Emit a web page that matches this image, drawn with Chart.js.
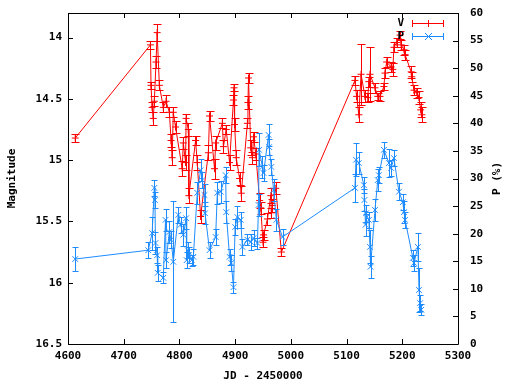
<!DOCTYPE html>
<html>
<head>
<meta charset="utf-8">
<script src="https://cdn.jsdelivr.net/npm/chart.js@4/dist/chart.umd.min.js"></script>
<style>
  html, body { margin: 0; padding: 0; background: #fff; }
  #wrap { width: 512px; height: 384px; }
</style>
</head>
<body>
<div id="wrap"><canvas id="myChart" width="512" height="384"></canvas></div>
<script>
// V magnitude
const vJD = [4613,4748,4749,4751,4753,4755,4758,4760,4764,4771,
  4776,4782,4785,4787,4789,4793,4805,4807,4811,4812,
  4816,4817,4829,4832,4838,4852,4854,4863,4865,4877,
  4879,4884,4890,4897,4898,4899,4902,4908,4911,4922,
  4923,4924,4928,4931,4933,4937,4944,4946,4950,4951,
  4958,4964,4965,4967,4973,4983,5115,5118,5122,5126,
  5133,5138,5140,5142,5151,5156,5160,5167,5169,5172,
  5180,5183,5185,5190,5196,5198,5203,5205,5216,5217,
  5221,5226,5230,5233,5235];
const vMag = [14.82,14.06,14.39,14.57,14.66,14.52,14.20,13.96,14.39,14.57,
  14.52,14.61,14.84,14.98,14.61,14.73,15.07,14.86,15.02,14.66,
  14.75,15.29,14.84,15.02,15.46,14.94,14.64,15.07,14.86,14.70,
  14.89,14.75,15.02,14.51,14.41,14.71,14.98,15.15,15.27,14.70,
  14.53,14.33,14.90,14.98,14.81,14.95,15.33,15.39,15.67,15.61,
  15.48,15.29,15.43,15.37,15.23,15.75,14.35,14.48,14.63,14.30,
  14.48,14.49,14.36,14.30,14.41,14.48,14.48,14.40,14.29,14.20,
  14.24,14.26,14.08,14.04,13.98,14.06,14.10,14.14,14.28,14.32,
  14.43,14.45,14.49,14.59,14.63];
const vErr = [0.03,0.03,0.03,0.04,0.05,0.04,0.05,0.07,0.04,0.04,
  0.05,0.04,0.05,0.06,0.04,0.05,0.06,0.05,0.06,0.04,
  0.05,0.06,0.04,0.06,0.05,0.06,0.04,0.08,0.06,0.04,
  0.05,0.04,0.06,0.04,0.03,0.05,0.06,0.05,0.06,0.04,
  0.05,0.04,0.06,0.05,0.04,0.05,0.06,0.05,0.04,0.04,
  0.05,0.06,0.04,0.05,0.05,0.03,0.04,0.05,0.06,0.25,
  0.05,0.04,0.04,0.22,0.04,0.03,0.04,0.03,0.04,0.04,
  0.04,0.05,0.04,0.04,0.03,0.04,0.04,0.04,0.05,0.04,
  0.04,0.04,0.05,0.06,0.06];

// polarisation P (%)
const pJD = [4613,4744,4751,4755,4756,4757,4760,4761,4771,4775,
  4776,4782,4785,4789,4798,4802,4807,4812,4813,4815,
  4817,4822,4825,4832,4838,4841,4845,4846,4854,4865,
  4868,4874,4883,4884,4890,4893,4897,4900,4904,4910,
  4913,4922,4928,4933,4940,4942,4943,4949,4951,4960,
  4961,4965,4969,4974,4985,5115,5117,5122,5131,5132,
  5134,5135,5140,5142,5143,5151,5156,5158,5167,5176,
  5180,5185,5194,5201,5203,5205,5219,5221,5228,5230,
  5232,5234];
const pVal = [15.4,17.0,20.1,28.3,26.1,18.3,16.1,12.9,12.0,22.5,
  15.2,20.3,18.9,14.9,23.4,21.6,19.8,22.8,15.2,17.0,
  16.1,15.2,15.8,27.4,31.5,29.7,27.0,23.7,17.0,19.4,
  27.4,27.6,30.6,23.9,15.8,14.7,10.3,21.2,23.0,22.5,
  17.6,18.9,18.5,19.2,18.3,25.2,35.2,32.1,31.0,37.9,
  35.7,32.1,27.9,22.5,19.4,28.3,33.4,32.8,28.8,26.1,
  21.6,23.7,22.5,17.6,14.0,24.3,29.7,30.6,35.2,32.8,
  31.9,33.7,27.6,25.7,23.9,22.5,15.6,14.7,17.6,9.8,
  7.4,6.2];
const pErr = [2.2,1.5,3,1.5,1.5,2,1.5,1.5,1,2,
  1.5,2,1.5,11,1.5,1.5,2,2,1.5,1.5,
  1.5,1,1.5,2,2,1.5,2,2,1.5,1.5,
  2,2,1.5,2,1.5,1.5,1,1.5,2,1.5,
  1.5,1,1.5,1.5,1,2,3,2,1.5,2,
  1.5,1.5,2,2,1.5,2.5,3,2,1.5,2,
  2,1.5,1.5,3,2,2,2,1.5,1.5,2.5,
  1.5,1.5,1.5,1.5,2,1.5,1.5,1.5,2.5,4,
  1.5,1];

const xTicks = [4600,4700,4800,4900,5000,5100,5200,5300];
const yTicks = [14,14.5,15,15.5,16,16.5];
const y2Ticks = [0,5,10,15,20,25,30,35,40,45,50,55,60];

const RED = '#ff0000';
const BLUE = '#1e8cff';
const FONT = { family: 'DejaVu Sans Mono', size: 11, weight: 'bold' };

// error bars + frame + legend
const gnuplotLook = {
  id: 'gnuplotLook',
  afterDatasetDraw(chart, args) {
    const ds = chart.data.datasets[args.index];
    const ys = chart.scales[ds.yAxisID];
    const ctx = chart.ctx;
    ctx.save();
    ctx.strokeStyle = ds.borderColor;
    ctx.lineWidth = 1;
    ctx.beginPath();
    args.meta.data.forEach((pt, i) => {
      const v = ds.data[i].y, e = ds.err[i];
      const x = Math.round(pt.x) + 0.5;
      const y1 = Math.round(ys.getPixelForValue(v - e)) + 0.5;
      const y2 = Math.round(ys.getPixelForValue(v + e)) + 0.5;
      ctx.moveTo(x, y1); ctx.lineTo(x, y2);
      ctx.moveTo(x - ds.cap, y1); ctx.lineTo(x + ds.cap, y1);
      ctx.moveTo(x - ds.cap, y2); ctx.lineTo(x + ds.cap, y2);
    });
    ctx.stroke();
    ctx.restore();
  },
  afterDraw(chart) {
    const { ctx, chartArea: a, scales } = chart;
    ctx.save();
    ctx.strokeStyle = '#000';
    ctx.lineWidth = 1;
    ctx.beginPath();
    ctx.rect(a.left + 0.5, a.top + 0.5, a.right - a.left, a.bottom - a.top);
    scales.x.ticks.forEach(t => {
      const px = Math.round(scales.x.getPixelForValue(t.value)) + 0.5;
      ctx.moveTo(px, a.bottom); ctx.lineTo(px, a.bottom - 5);
      ctx.moveTo(px, a.top); ctx.lineTo(px, a.top + 5);
    });
    scales.y.ticks.forEach(t => {
      const py = Math.round(scales.y.getPixelForValue(t.value)) + 0.5;
      ctx.moveTo(a.left, py); ctx.lineTo(a.left + 5, py);
    });
    scales.y2.ticks.forEach(t => {
      const py = Math.round(scales.y2.getPixelForValue(t.value)) + 0.5;
      ctx.moveTo(a.right, py); ctx.lineTo(a.right - 5, py);
    });
    ctx.stroke();

    // y2 title, rotated like the left one
    ctx.fillStyle = '#000';
    ctx.font = 'bold 11px "DejaVu Sans Mono"';
    ctx.textAlign = 'center';
    ctx.textBaseline = 'middle';
    ctx.save();
    ctx.translate(497, (a.top + a.bottom) / 2);
    ctx.rotate(-Math.PI / 2);
    ctx.fillText('P (%)', 0, 0);
    ctx.restore();

    // legend
    const rows = [['V', RED, 23], ['P', BLUE, 36]];
    rows.forEach(([label, col, y], k) => {
      ctx.fillStyle = '#000';
      ctx.textAlign = 'right';
      ctx.fillText(label, 404, y);
      ctx.strokeStyle = col;
      ctx.beginPath();
      ctx.moveTo(412, y + 0.5); ctx.lineTo(443, y + 0.5);
      ctx.moveTo(412.5, y - 3); ctx.lineTo(412.5, y + 4);
      ctx.moveTo(443.5, y - 3); ctx.lineTo(443.5, y + 4);
      if (k === 0) {
        ctx.moveTo(428.5, y - 3); ctx.lineTo(428.5, y + 4);
      } else {
        ctx.moveTo(425, y - 3); ctx.lineTo(432, y + 4);
        ctx.moveTo(432, y - 3); ctx.lineTo(425, y + 4);
      }
      ctx.stroke();
    });
    ctx.restore();
  }
};

function noPad(s) {
  s.paddingTop = 0; s.paddingBottom = 0;
  s.paddingLeft = 0; s.paddingRight = 0;
}

const ctx = document.getElementById('myChart').getContext('2d');
const myChart = new Chart(ctx, {
  type: 'line',
  data: {
    datasets: [{
      label: 'V',
      data: vJD.map((x, i) => ({ x: x, y: vMag[i] })),
      err: vErr,
      cap: 4,
      yAxisID: 'y',
      borderColor: RED,
      backgroundColor: RED,
      borderWidth: 1,
      pointStyle: 'cross',
      pointRadius: 3.5,
      pointBorderWidth: 1,
      tension: 0,
      order: 2
    }, {
      label: 'P',
      data: pJD.map((x, i) => ({ x: x, y: pVal[i] })),
      err: pErr,
      cap: 3,
      yAxisID: 'y2',
      borderColor: BLUE,
      backgroundColor: BLUE,
      borderWidth: 1,
      pointStyle: 'crossRot',
      pointRadius: 4,
      pointBorderWidth: 1,
      tension: 0,
      order: 1
    }]
  },
  options: {
    responsive: false,
    animation: false,
    layout: { padding: { top: 13, left: 0, right: 0, bottom: 0 } },
    plugins: { legend: { display: false }, tooltip: { enabled: false } },
    scales: {
      x: {
        type: 'linear',
        position: 'bottom',
        min: 4600,
        max: 5300,
        afterBuildTicks: s => { s.ticks = xTicks.map(v => ({ value: v })); },
        afterFit: s => { s.height = 40; noPad(s); },
        grid: { display: false, drawTicks: false },
        border: { display: false },
        ticks: { font: FONT, color: '#000', padding: 6, maxRotation: 0, callback: v => String(v) },
        title: { display: true, text: 'JD - 2450000', font: FONT, color: '#000', padding: { top: 2, bottom: 1 } }
      },
      y: {
        type: 'linear',
        position: 'left',
        reverse: true,
        min: 13.8,
        max: 16.5,
        afterBuildTicks: s => { s.ticks = yTicks.map(v => ({ value: v })); },
        afterFit: s => { s.width = 68; noPad(s); },
        grid: { display: false, drawTicks: false },
        border: { display: false },
        ticks: { font: FONT, color: '#000', padding: 6, callback: v => String(v) },
        title: { display: true, text: 'Magnitude', font: FONT, color: '#000', padding: { top: 6, bottom: 0 } }
      },
      y2: {
        type: 'linear',
        position: 'right',
        min: 0,
        max: 60,
        afterBuildTicks: s => { s.ticks = y2Ticks.map(v => ({ value: v })); },
        afterFit: s => { s.width = 54; noPad(s); },
        grid: { display: false, drawTicks: false },
        border: { display: false },
        ticks: { font: FONT, color: '#000', padding: 12, callback: v => String(v) }
      }
    }
  },
  plugins: [gnuplotLook]
});
</script>
</body>
</html>
